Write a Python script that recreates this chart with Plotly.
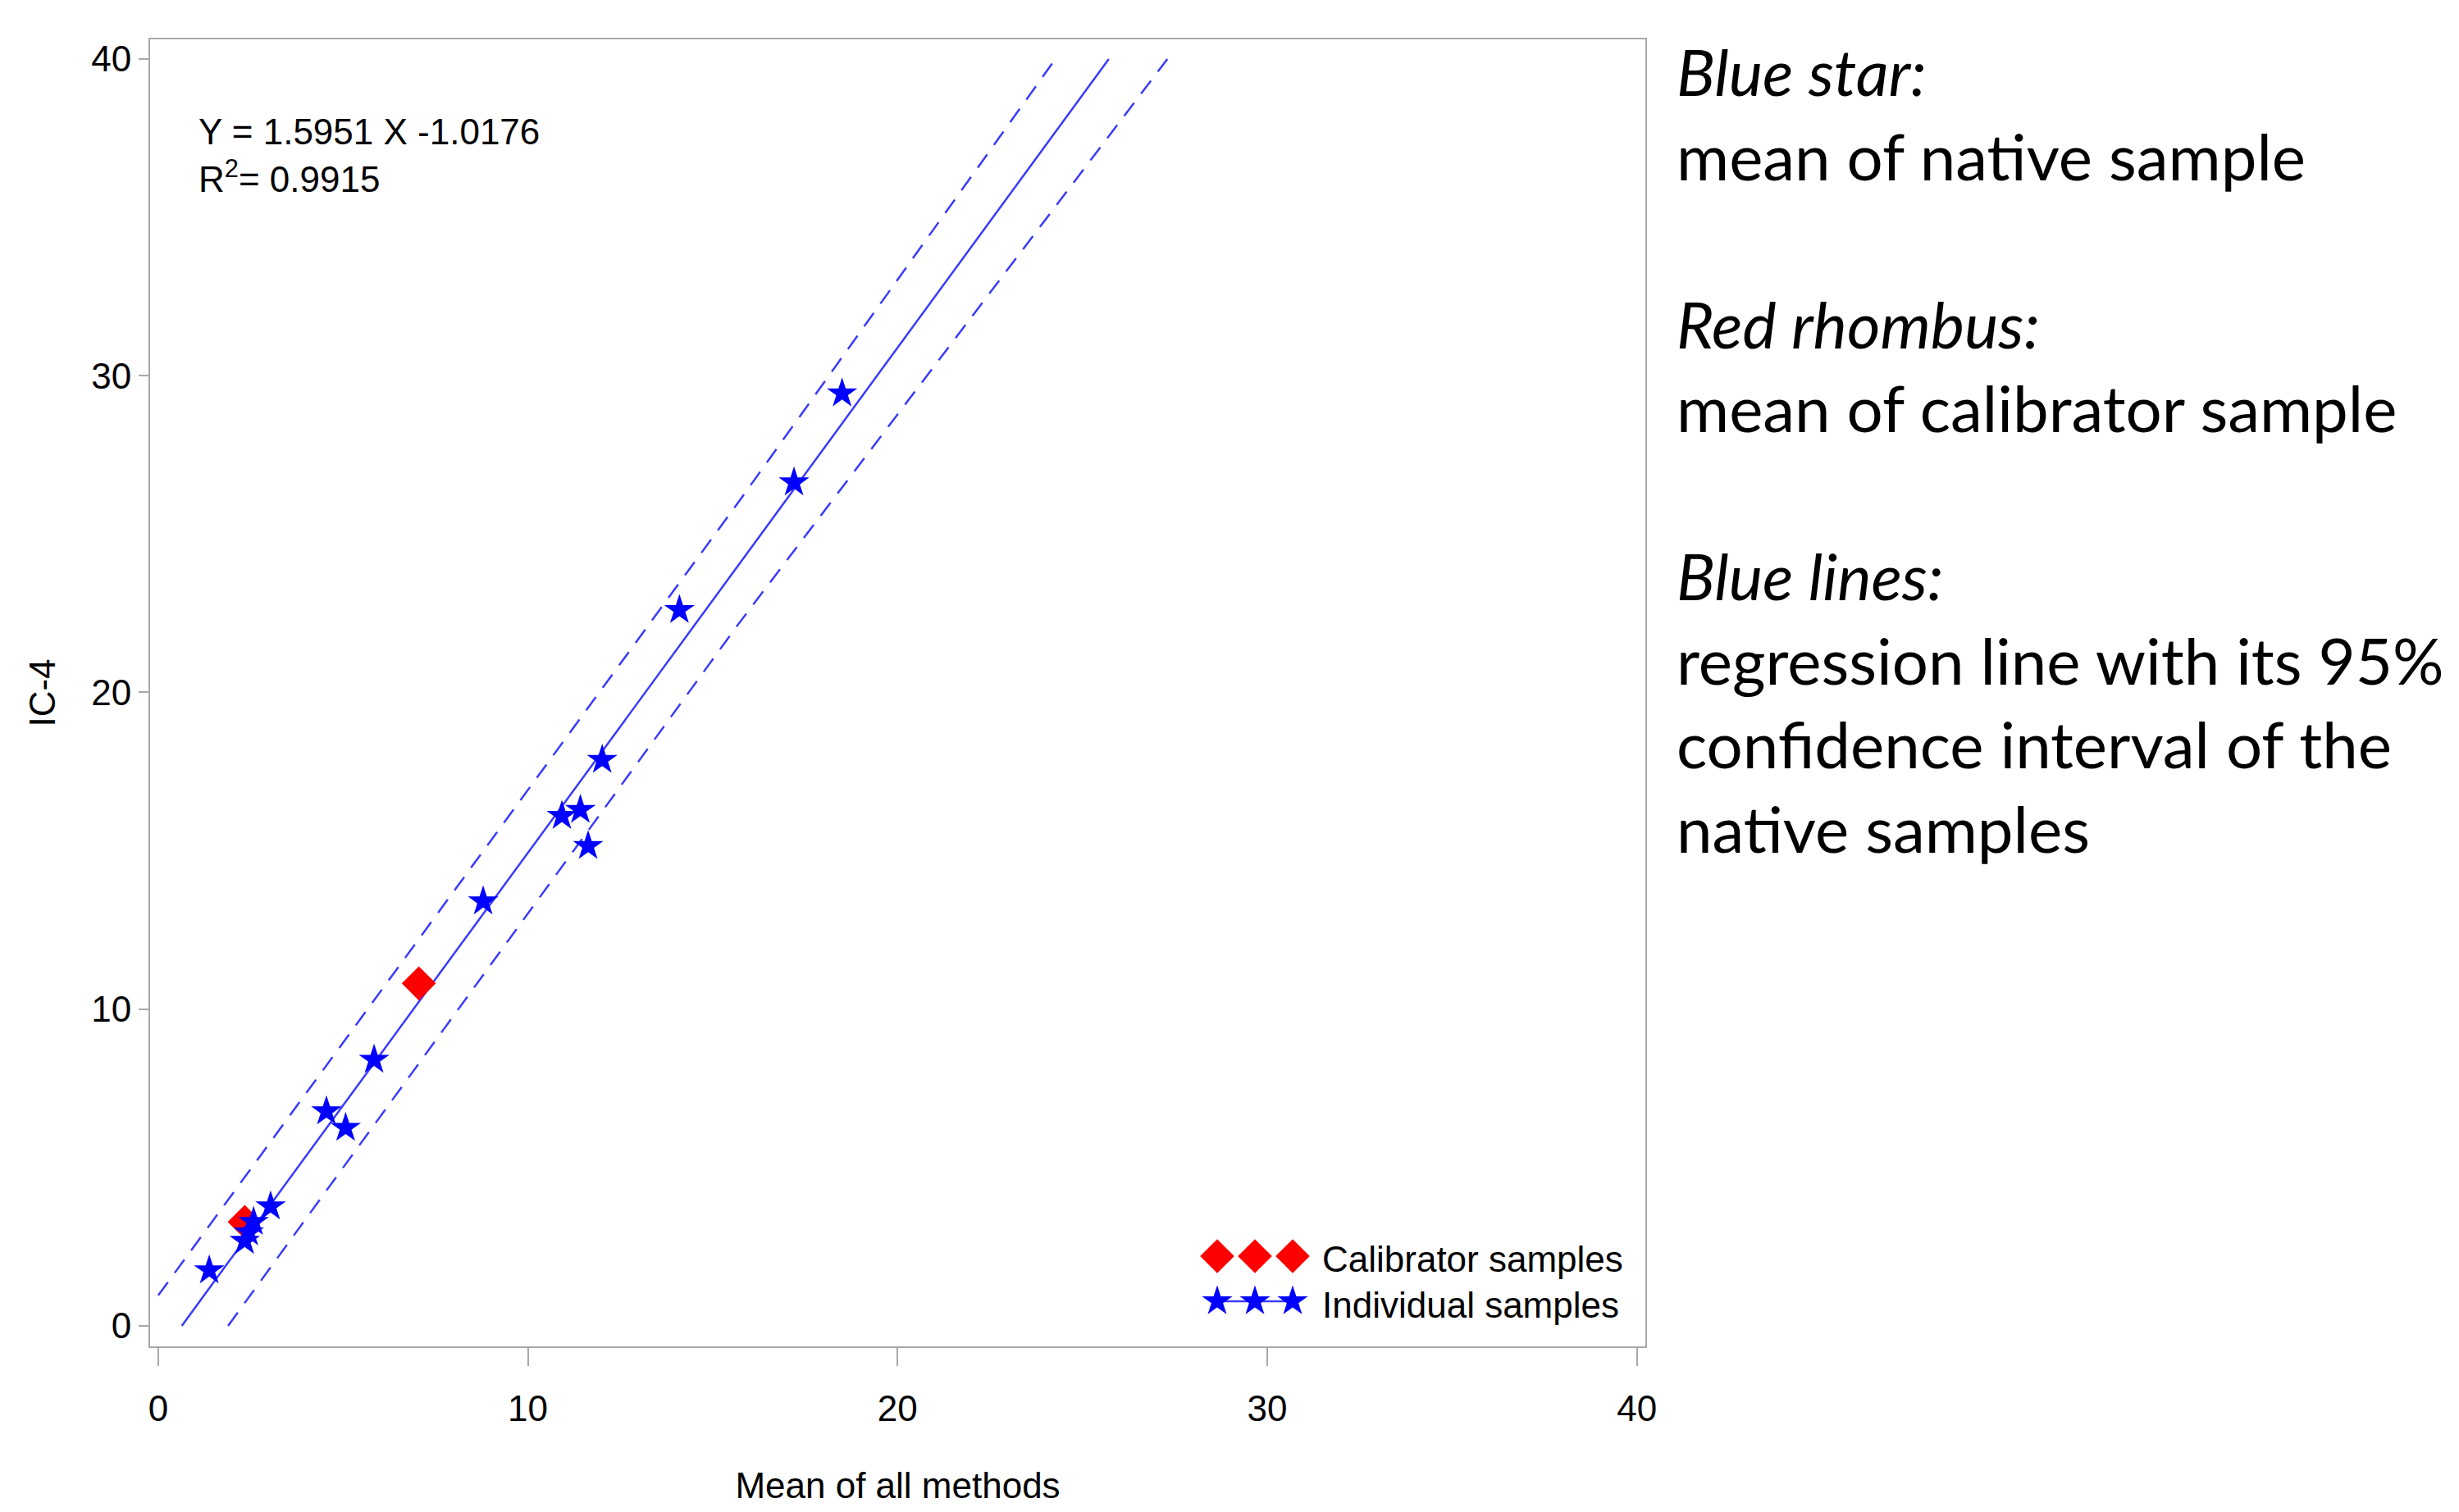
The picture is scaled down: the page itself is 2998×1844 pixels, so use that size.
import plotly.graph_objects as go

# ---------------- data ----------------
individual_x = [1.38, 2.34, 2.45, 2.58, 3.04, 4.55, 5.07, 5.84, 8.79, 10.92, 11.42, 11.63, 12.01, 14.10, 17.20, 18.50]
individual_y = [1.75, 2.68, 2.95, 3.28, 3.77, 6.77, 6.25, 8.40, 13.40, 16.10, 16.29, 15.15, 17.87, 22.60, 26.63, 29.44]

calibrator_x = [2.34, 7.05]
calibrator_y = [3.28, 10.81]

slope = 1.5951
intercept = -1.0176
r_squared = 0.9915
reg_y_limits = [0, 40]

upper_ci_x = [0.0, 15.76, 24.27]
upper_ci_y = [0.96, 26.11, 40.0]
lower_ci_x = [1.89, 15.69, 27.30]
lower_ci_y = [0.0, 22.15, 40.0]

x_ticks = [0, 10, 20, 30, 40]
y_ticks = [0, 10, 20, 30, 40]

x_title = "Mean of all methods"
y_title = "IC-4"
legend_labels = ["Calibrator samples", "Individual samples"]

note_lines = [
    ("Blue star:", True),
    ("mean of native sample", False),
    ("", False),
    ("Red rhombus:", True),
    ("mean of calibrator sample", False),
    ("", False),
    ("Blue lines:", True),
    ("regression line with its 95%", False),
    ("confidence interval of the", False),
    ("native samples", False),
]

# ---------------- layout geometry (page pixels) ----------------
OFF = 8                      # default body margin of the html page
W, H = 2998 - 2 * OFF, 1844 - 2 * OFF
L, R, T, B = 183, 2006, 48, 1642   # plot area on the page

BLUE = "#0000ff"
RED = "#ff0000"
LINE_BLUE = "#3a3aff"
FRAME = "#a8a8a8"
SANS = "Liberation Sans, Arial, sans-serif"
NOTE_FONT = "Lato, Open Sans, sans-serif"

DIAMOND_SIZE = 32
STAR_SIZE = 28


def px(xp):
    return (xp - L) / (R - L)


def py(yp):
    return (B - yp) / (B - T)


reg_x = [(v - intercept) / slope for v in reg_y_limits]

fig = go.Figure()

fig.add_trace(go.Scatter(x=upper_ci_x, y=upper_ci_y, mode="lines",
                         line=dict(color=LINE_BLUE, width=2.5, dash="20px,14px"),
                         showlegend=False, hoverinfo="skip"))
fig.add_trace(go.Scatter(x=lower_ci_x, y=lower_ci_y, mode="lines",
                         line=dict(color=LINE_BLUE, width=2.5, dash="20px,14px"),
                         showlegend=False, hoverinfo="skip"))
fig.add_trace(go.Scatter(x=reg_x, y=reg_y_limits, mode="lines",
                         line=dict(color=LINE_BLUE, width=2.5),
                         showlegend=False, hoverinfo="skip"))

fig.add_trace(go.Scatter(x=calibrator_x, y=calibrator_y, mode="markers",
                         name=legend_labels[0],
                         marker=dict(symbol="diamond", size=DIAMOND_SIZE, color=RED,
                                     line=dict(width=0)),
                         showlegend=False))
fig.add_trace(go.Scatter(x=individual_x, y=individual_y, mode="markers",
                         name=legend_labels[1],
                         marker=dict(symbol="star", size=STAR_SIZE, color=BLUE,
                                     line=dict(width=0)),
                         showlegend=False))

# ---- legend keys drawn on an overlay axis measured in page pixels ----
key_x0, key_gap = 1484, 46
key_xs = [key_x0 + i * key_gap for i in range(3)]
fig.add_trace(go.Scatter(x=key_xs, y=[1532] * 3, mode="markers",
                         marker=dict(symbol="diamond", size=DIAMOND_SIZE, color=RED, line=dict(width=0)),
                         xaxis="x2", yaxis="y2", showlegend=False, hoverinfo="skip"))
fig.add_trace(go.Scatter(x=key_xs, y=[1587] * 3, mode="lines+markers",
                         line=dict(color=LINE_BLUE, width=2.5),
                         marker=dict(symbol="star", size=STAR_SIZE, color=BLUE, line=dict(width=0)),
                         xaxis="x2", yaxis="y2", showlegend=False, hoverinfo="skip"))

annotations = [
    dict(text="Y = %.4f X %.4f" % (slope, intercept),
         x=px(240), y=py(160), xanchor="left", yanchor="middle"),
    dict(text="R<sup>2</sup>= %.4f" % r_squared,
         x=px(240), y=py(216), xanchor="left", yanchor="middle"),
    dict(text=legend_labels[0], x=px(1610), y=py(1535), xanchor="left", yanchor="middle"),
    dict(text=legend_labels[1], x=px(1610), y=py(1591), xanchor="left", yanchor="middle"),
]
for a in annotations:
    a.update(xref="paper", yref="paper", showarrow=False,
             font=dict(family=SANS, size=44, color="black"))

note_size = 78
for i, (txt, ital) in enumerate(note_lines):
    if not txt:
        continue
    baseline = 116 + 102.5 * i
    annotations.append(dict(
        text=("<i>%s</i>" % txt) if ital else txt,
        x=px(2042), y=py(baseline - 0.36 * 80),
        xref="paper", yref="paper", xanchor="left", yanchor="middle",
        showarrow=False, font=dict(family=NOTE_FONT, size=note_size, color="black")))

fig.update_layout(
    width=W, height=H,
    margin=dict(l=L - OFF, r=W - (R - OFF), t=T - OFF, b=H - (B - OFF), pad=0,
                autoexpand=False),
    paper_bgcolor="white", plot_bgcolor="white",
    annotations=annotations,
    xaxis=dict(range=[-0.22, 40.23], tickvals=x_ticks, ticks="outside", ticklen=22,
               tickwidth=2, tickcolor=FRAME, showline=True, linecolor=FRAME, linewidth=2,
               mirror=True, showgrid=False, zeroline=False, ticklabelstandoff=14,
               automargin=False,
               tickfont=dict(family=SANS, size=44, color="black"),
               title=dict(text=x_title, font=dict(family=SANS, size=44, color="black"),
                          standoff=74)),
    yaxis=dict(range=[-0.65, 40.62], tickvals=y_ticks, ticks="outside", ticklen=12,
               tickwidth=2, tickcolor=FRAME, showline=True, linecolor=FRAME, linewidth=2,
               mirror=True, showgrid=False, zeroline=False, automargin=False,
               tickfont=dict(family=SANS, size=44, color="black"),
               title=dict(text=y_title, font=dict(family=SANS, size=44, color="black"),
                          standoff=30)),
    xaxis2=dict(overlaying="x", range=[L, R], visible=False),
    yaxis2=dict(overlaying="y", range=[B, T], visible=False),
)

fig.write_html("out.html")
